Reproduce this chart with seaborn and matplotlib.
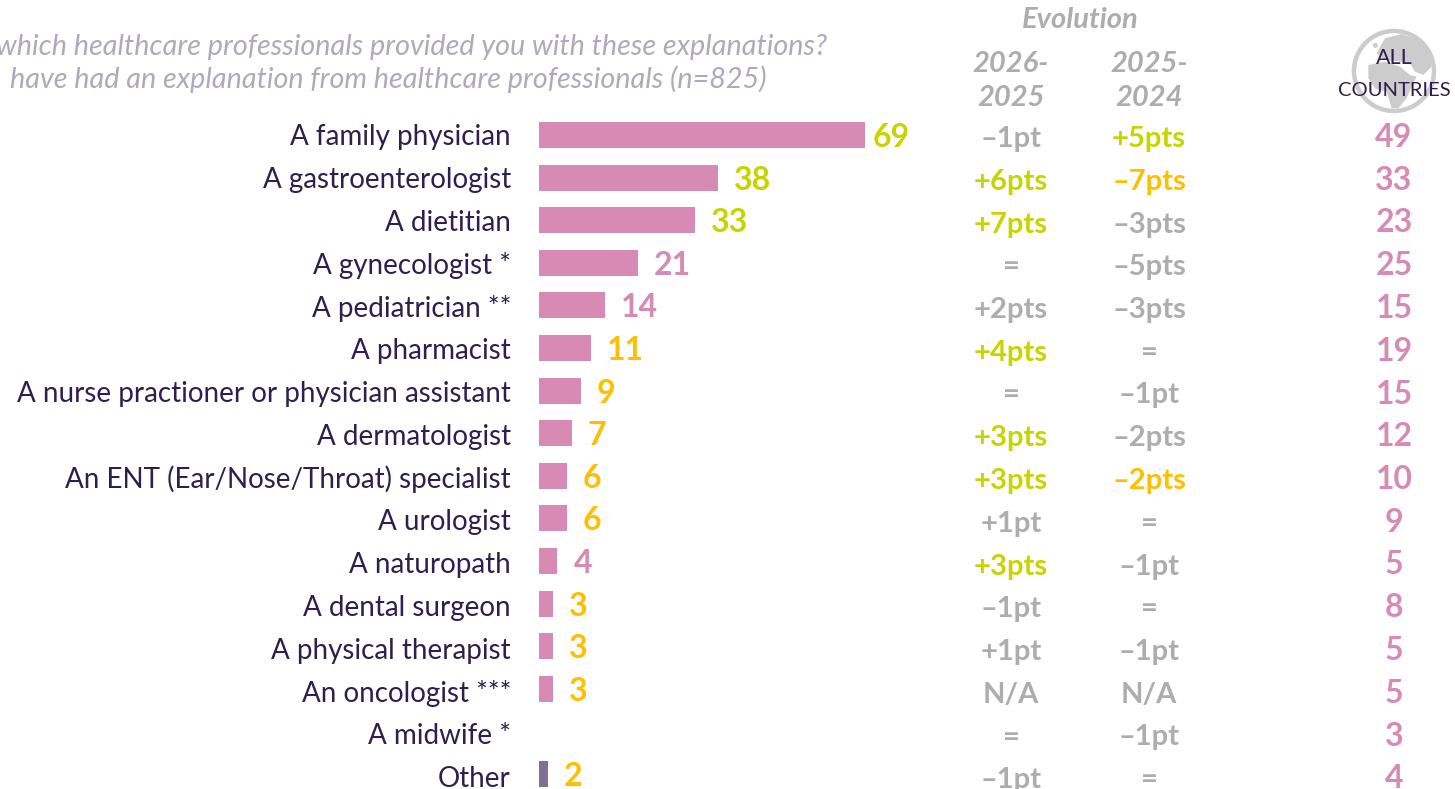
import numpy as np
import pandas as pd
import matplotlib
matplotlib.use("Agg")
import matplotlib.pyplot as plt
from matplotlib.patches import Circle, Polygon
import seaborn as sns

categories = ["A family physician", "A gastroenterologist", "A dietitian", "A gynecologist *",
              "A pediatrician **", "A pharmacist", "A nurse practioner or physician assistant",
              "A dermatologist", "An ENT (Ear/Nose/Throat) specialist", "A urologist",
              "A naturopath", "A dental surgeon", "A physical therapist", "An oncologist ***",
              "A midwife *", "Other"]
values = [69, 38, 33, 21, 14, 11, 9, 7, 6, 6, 4, 3, 3, 3, np.nan, 2]
evo_2026 = ["-1pt", "+6pts", "+7pts", "=", "+2pts", "+4pts", "=", "+3pts", "+3pts", "+1pt",
            "+3pts", "-1pt", "+1pt", "N/A", "=", "-1pt"]
evo_2025 = ["+5pts", "-7pts", "-3pts", "-5pts", "-3pts", "=", "-1pt", "-2pts", "-2pts", "=",
            "-1pt", "=", "-1pt", "N/A", "-1pt", "="]
all_countries = [49, 33, 23, 25, 15, 19, 15, 12, 10, 9, 5, 8, 5, 5, 3, 4]

PINK, PURPLE, OLIVE, AMBER, GREY = "#D68AB4", "#806F96", "#C8D400", "#FFBE00", "#ADADAD"
TITLE, DARK, GLOBE = "#B0A8BC", "#2D1F4F", "#CCCCCC"
value_colors = [OLIVE, OLIVE, OLIVE, PINK, PINK, AMBER, AMBER, AMBER, AMBER, AMBER, PINK,
                AMBER, AMBER, AMBER, AMBER, AMBER]
evo1_colors = [GREY, OLIVE, OLIVE, GREY, GREY, OLIVE, GREY, OLIVE, OLIVE, GREY, OLIVE,
               GREY, GREY, GREY, GREY, GREY]
evo2_colors = [OLIVE, AMBER, GREY, GREY, GREY, GREY, GREY, GREY, AMBER, GREY, GREY,
               GREY, GREY, GREY, GREY, GREY]

W, H = 1455, 789
sns.set_theme(style="white")
plt.rcParams["font.family"] = ["Lato", "DejaVu Sans"]

fig = plt.figure(figsize=(W / 100, H / 100), dpi=100)
ax = fig.add_axes([0, 0, 1, 1])
df = pd.DataFrame({"category": categories, "value": values})
palette = [PURPLE if c == "Other" else PINK for c in categories]
sns.barplot(data=df, y="category", x="value", hue="category", palette=palette, legend=False,
            width=0.61, saturation=1, ax=ax, order=categories, linewidth=0)
X0, PX_U = 538.5, 4.73
Y0, PX_ROW = 135.0, 42.6
ROW_TEXT = 42.75
ax.set_xlim(-X0 / PX_U, (W - X0) / PX_U)
ax.set_ylim((H - Y0) / PX_ROW, -Y0 / PX_ROW)
ax.set_axis_off()


def px_text(x, y, s, **kw):
    fig.text(x / W, 1 - y / H, s, **kw)


cat_size, val_size, evo_size = 20, 23, 21
for i, name in enumerate(categories):
    yp = Y0 + i * PX_ROW
    yt = Y0 + i * ROW_TEXT
    px_text(511, yt, name, ha="right", va="center_baseline", color=DARK, fontsize=cat_size)
    if not np.isnan(values[i]):
        gap = 8 if values[i] == 69 else 16
        px_text(X0 + values[i] * PX_U + gap, yp, f"{values[i]:.0f}", ha="left", va="center_baseline",
                color=value_colors[i], fontsize=val_size, fontweight="bold")
    px_text(1011, yt + 1.5, evo_2026[i].replace("-", "\u2013"), ha="center", va="center_baseline",
            color=evo1_colors[i], fontsize=evo_size, fontweight="bold")
    px_text(1149, yt + 1.5, evo_2025[i].replace("-", "\u2013"), ha="center", va="center_baseline",
            color=evo2_colors[i], fontsize=evo_size, fontweight="bold")
    px_text(1394, yt, str(all_countries[i]), ha="center", va="center_baseline", color=PINK,
            fontsize=val_size, fontweight="bold")

px_text(827, 45, "which healthcare professionals provided you with these explanations?",
        ha="right", va="center_baseline", color=TITLE, fontsize=20.7, style="italic")
px_text(767, 77, "have had an explanation from healthcare professionals (n=825)",
        ha="right", va="center_baseline", color=TITLE, fontsize=20.7, style="italic")
px_text(1080, 18, "Evolution", ha="center", va="center_baseline", color=GREY, fontsize=21,
        style="italic", fontweight="bold")
for x, a, b in [(1011, "2026-", "2025"), (1149, "2025-", "2024")]:
    px_text(x, 62, a, ha="center", va="center_baseline", color=GREY, fontsize=21, style="italic", fontweight="bold")
    px_text(x, 96, b, ha="center", va="center_baseline", color=GREY, fontsize=21, style="italic", fontweight="bold")

overlay = fig.add_axes([0, 0, 1, 1], zorder=-1)
overlay.set_xlim(0, W)
overlay.set_ylim(H, 0)
overlay.set_axis_off()
overlay.add_patch(Circle((1394, 71), 40, fill=False, ec=GLOBE, lw=3.2))


def icon(points):
    overlay.add_patch(Polygon([(1335 + x / 3, 20 + y / 3) for x, y in points], closed=True,
                              fc=GLOBE, ec="none"))


icon([(150, 55), (200, 42), (250, 60), (285, 105), (290, 140), (265, 165), (240, 155), (225, 130),
      (195, 125), (150, 120), (125, 100), (135, 80)])
icon([(100, 135), (150, 125), (195, 140), (225, 165), (245, 170), (230, 200), (215, 235),
      (190, 265), (170, 265), (155, 215), (120, 205), (100, 175)])
icon([(112, 72), (125, 68), (130, 80), (118, 85)])
px_text(1394, 56, "ALL", ha="center", va="center_baseline", color=DARK, fontsize=15.5)
px_text(1394, 89, "COUNTRIES", ha="center", va="center_baseline", color=DARK, fontsize=14.5)

fig.savefig("out.png", dpi=100)
